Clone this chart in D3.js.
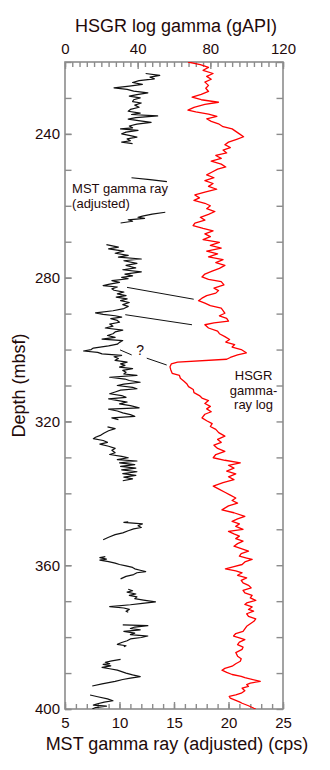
<!DOCTYPE html>
<html>
<head>
<meta charset="utf-8">
<script src="https://cdn.jsdelivr.net/npm/d3@7/dist/d3.min.js"></script>
<style>
  html, body { margin: 0; padding: 0; background: #fff; }
  svg { display: block; }
  text { font-family: "Liberation Sans", Arial, Helvetica, sans-serif; fill: #1f0a0a; }
</style>
</head>
<body>
<svg id="chart" width="330" height="770"></svg>
<script>
// ---------------- data ----------------
const depthDomain = [220, 400];
const hsgrDomain = [0, 120];
const mstDomain = [5, 25];
const depthTickLabels = [240, 280, 320, 360, 400];
const hsgrTickLabels = [0, 40, 80, 120];
const mstTickLabels = [5, 10, 15, 20, 25];

// HSGR log gamma (gAPI) vs depth (mbsf)
const hsgrLog = [
[220.0,67.7],[220.7,74.5],[221.5,79],[222.3,76],[223.2,81.5],[224.0,78],[224.8,80.5],[225.6,77],[226.5,79],[227.3,77.5],
[228.2,79],[229.0,75],[229.8,70],[230.5,75],[231.2,84.5],[231.8,77],[232.6,71],[233.4,67.7],[233.9,72],[234.5,79],
[235.1,83.6],[235.8,78],[236.5,80.5],[237.2,84.5],[238.0,87],[238.6,92],[239.3,94],[240.0,96],[240.8,98.3],[241.5,94.5],
[242.3,90],[243.0,88],[243.8,91],[244.5,87],[245.3,89],[246.0,83],[246.8,86],[247.6,80.5],[248.4,86],[249.2,88.5],
[249.8,84],[250.6,81],[251.4,78],[252.2,82],[253.0,77],[253.8,81.5],[254.6,79],[255.4,83.5],[256.2,77],[257.0,71.5],
[257.8,74],[258.5,71],[259.3,77],[260.0,80],[260.8,78],[261.6,82.5],[262.4,79],[263.2,74.5],[264.0,77],[264.8,71.5],
[265.5,70.5],[266.3,76],[267.0,81.5],[267.8,77],[268.6,80],[269.4,76],[270.2,85],[271.0,80],[271.8,86],[272.6,78],
[273.4,84],[274.2,79],[275.0,87],[275.8,83],[276.6,88],[277.4,85],[278.2,81],[279.0,77],[279.8,75.4],[280.5,79],
[281.1,86],[282.0,87.5],[282.9,82],[283.6,84.5],[284.3,83],[285.0,78],[285.7,75.4],[286.4,73.5],[287.1,77],[287.8,80],
[288.5,86],[289.2,87],[289.9,88],[290.6,85],[291.3,89],[292.1,90],[292.6,82],[293.1,77],[294.0,79],[294.9,84],
[295.6,85],[296.4,88],[297.2,90.6],[297.9,88.5],[298.6,93.4],[299.3,92],[300.0,97],[300.9,99.8],[301.5,95],[302.2,91],
[302.7,89],[303.5,62],[304.0,58.5],[304.8,57.8],[305.6,58.2],[306.6,59],[307.2,63],[308.0,63.5],[308.8,65.5],[309.5,67],
[310.3,68],[311.1,70.6],[312.0,71],[312.8,74],[313.5,75.4],[314.2,79],[315.0,77],[315.8,80],[316.5,78],[317.3,80.5],
[318.0,77],[319.0,75.4],[319.8,78],[320.6,81],[321.4,80],[322.2,83],[323.1,84.6],[324.1,88],[325.0,84],[325.8,86],
[326.6,82],[327.5,84],[328.3,88],[329.2,83],[330.1,81.6],[330.8,88],[331.5,96.5],[332.2,90],[333.0,93],[333.8,89],
[334.6,94],[335.4,90],[336.2,93],[337.0,87],[338.0,81.6],[338.9,85],[339.7,88],[340.5,91],[341.3,94],[342.0,92],
[342.7,95],[343.5,90],[344.6,86.4],[345.4,93],[346.4,99],[347.1,95],[347.8,92],[348.5,96],[349.2,94],[350.0,98],
[350.6,90],[351.3,93],[351.9,96],[352.6,94],[353.3,98],[354.0,95],[354.7,93],[355.4,97],[356.1,101],[356.8,97],
[357.5,96],[358.0,100],[358.4,103],[359.1,99],[359.8,97.5],[360.4,93],[361.0,88.3],[361.6,94],[362.1,97.5],[362.8,95],
[363.5,100],[364.2,97],[364.9,98],[365.6,101],[366.3,102.5],[367.0,98],[367.7,99],[368.4,103],[369.1,102],[369.8,105],
[370.5,100],[370.9,99],[371.6,103],[372.3,101],[372.8,103.8],[373.5,100],[374.2,101],[374.9,105],[375.6,104],[376.3,102],
[377.0,100],[377.7,99],[378.4,98],[379.0,94],[379.7,92.8],[380.2,96],[380.7,99],[381.4,96],[382.1,95],[382.8,98],
[383.4,97.5],[384.3,94],[385.3,95],[386.0,97],[386.7,96.5],[387.4,94],[388.1,92],[388.7,88],[389.2,86.4],[389.8,89],
[390.4,92],[390.9,97],[391.3,99],[392.3,107.5],[392.8,102],[393.2,100],[393.7,101],[394.2,97.5],[394.9,99],[395.6,97],
[396.1,94],[396.5,90.4],[397.0,91],[397.4,93],[398.0,96],[398.4,97.5],[399.1,101],[399.8,104],[400.0,105]
];

// MST gamma ray (adjusted, cps) vs depth (mbsf); one array per core segment
const mstSegments = [
[[223.2,12.4],[223.7,13.7],[224.2,12.8],[224.7,13.2],[225.2,11.8],[225.7,11.2],[226.2,12.1],[226.7,10.9],[227.2,9.5],[227.6,10.7],
 [228.1,11.3],[228.6,12.6],[229.1,11.6],[229.5,10.9],[230.0,11.9],[230.5,11.3],[231.0,11.2],[231.4,12.0],[232.0,11.4],[232.6,11.8],
 [233.2,11.0],[233.7,10.8],[234.2,11.9],[234.6,11.1],[235.0,13.5],[235.5,11.5],[235.9,10.8],[236.4,11.9],[236.8,12.9],[237.3,11.6],
 [237.8,10.9],[238.3,11.2],[238.6,10.1],[239.0,11.7],[239.5,10.6],[240.0,10.2],[240.5,11.0],[240.9,11.6],[241.4,10.7],[241.9,11.0],
 [242.3,10.2],[242.7,11.2]],
[[252.2,11.1],[252.7,12.8],[253.3,14.35]],
[[261.8,14.2],[262.3,13.0],[262.9,12.1],[263.2,11.7],[263.5,12.3],[263.9,10.8],[264.3,11.2],[264.8,10.1]],
[[270.8,8.8],[271.5,9.9],[272.0,9.0],[272.6,10.4],[273.2,9.6],[273.8,10.8],[274.3,9.9],[274.8,12.0],[275.3,10.4],[276.0,11.6],
 [276.6,10.6],[277.3,11.5],[277.8,10.3],[278.4,12.0],[279.0,10.5],[279.5,11.2],[279.9,10.2],[280.3,10.8],[280.8,9.3],[281.3,10.0],
 [281.8,9.1],[282.2,8.5],[282.6,9.8],[283.1,9.3],[283.5,9.5],[284.0,10.4],[284.5,9.8],[285.0,10.6],[285.4,9.7],[285.9,10.7],
 [286.4,10.1],[286.9,10.9],[287.5,10.3],[288.0,10.8],[288.6,10.4],[289.2,9.4],[289.8,7.8],[290.2,8.5],[290.6,9.6],[291.0,10.2],
 [291.4,9.2],[291.9,9.8],[292.4,10.0],[292.9,9.1],[293.5,9.4],[294.0,8.7],[294.6,10.3],[295.1,9.6],[295.6,9.4],[296.1,8.9],
 [296.6,9.6],[297.1,8.4],[297.5,10.3],[298.0,10.0],[298.5,9.8],[299.0,9.0],[299.6,7.6],[300.0,7.4],[300.4,6.7],[300.8,8.0],
 [301.2,8.4],[301.6,10.2],[302.0,9.5],[302.5,9.9],[303.0,9.6],[303.5,10.7],[304.0,10.1],[304.4,10.5],[304.9,10.0],[305.3,11.2],
 [305.8,10.3],[306.3,10.6],[306.8,10.4],[307.2,11.6],[307.7,9.1],[308.2,10.5],[308.6,10.9],[309.1,11.9],[309.6,10.4],[310.0,9.8],
 [310.5,11.2],[310.9,11.6],[311.3,10.1],[311.8,9.6],[312.3,9.1],[312.8,10.2],[313.3,10.6],[313.7,9.0],[314.2,9.9],[314.6,10.7],
 [315.1,10.0],[315.6,11.0],[316.2,11.8],[316.6,9.0],[317.1,9.8],[317.6,10.3],[318.1,11.0],[318.6,11.4],[319.0,9.3],[319.5,9.9]],
[[321.5,8.9],[322.0,9.6],[322.6,9.0],[323.2,8.6],[323.8,8.3],[324.4,7.8],[324.8,7.6],[325.3,8.5],[325.8,8.9],[326.3,8.2],
 [326.9,9.0],[327.5,9.6],[328.0,9.3],[328.7,9.6],[329.2,9.1],[329.7,10.2],[330.1,10.8],[330.6,9.8],[331.0,11.6],[331.5,10.0],
 [332.0,11.4],[332.5,10.1],[333.0,11.5],[333.5,10.2],[334.0,11.6],[334.5,10.3],[335.0,11.5],[335.5,10.4],[336.0,11.2],[336.5,10.3]],
[[347.9,10.8],[348.1,10.4],[348.5,12.1],[349.0,11.7],[349.5,12.0],[349.9,11.3],[350.4,10.8],[351.0,10.3],[351.5,9.6],[352.2,9.0],[352.9,8.5]],
[[357.6,8.7],[357.9,8.2],[358.3,8.8],[358.6,8.2],[359.0,9.0],[359.4,9.6],[359.8,10.0],[360.2,10.6],[360.6,11.2],[361.0,11.4],
 [361.4,11.9],[361.8,12.4],[362.1,11.6],[362.6,11.3],[363.1,10.6],[363.8,10.1]],
[[366.7,10.8],[367.1,11.2],[367.5,10.7],[368.0,11.5],[368.4,10.9],[368.8,11.6],[369.3,11.4],[369.7,12.2],[370.2,13.3],[370.6,12.1],
 [371.0,11.0],[371.5,9.1],[371.9,10.4],[372.3,10.9],[372.8,10.6],[373.1,10.8]],
[[376.6,10.3],[376.8,12.6],[377.2,11.4],[377.6,11.0],[378.0,11.9],[378.4,10.4],[378.9,11.4],[379.3,11.0],[379.7,12.6],[380.1,12.0],
 [380.5,11.0],[381.0,10.7],[381.5,10.2],[382.0,9.8],[382.4,10.6],[382.7,10.4]],
[[386.2,10.1],[386.6,9.3],[387.0,8.7],[387.4,9.1],[387.6,8.5],[388.0,9.2],[388.4,8.4],[388.8,9.1],[389.2,9.8],[389.6,10.2],
 [390.0,10.6],[390.5,11.2],[391.0,11.9],[391.4,11.0],[391.8,10.3],[392.3,9.6],[393.0,8.4],[393.6,7.5]],
[[396.1,7.3],[396.6,8.0],[397.2,8.9],[397.7,9.4],[398.1,8.6],[398.6,7.9],[398.9,7.6],[399.2,8.8],[399.6,7.8],[400.0,7.5]]
];

// correlation lines, in (depth, MST cps) coordinates
const correlationLines = [
  [[282.7,10.69],[286.0,16.81]],
  [[290.3,10.53],[293.1,16.65]],
  [[300.1,10.05],[301.5,11.12]],
  [[302.4,12.5],[304.3,14.33]]
];

// ---------------- layout ----------------
const plot = { left: 65, right: 283, top: 62, bottom: 709 };
const svg = d3.select("#chart");

const y = d3.scaleLinear().domain(depthDomain).range([plot.top, plot.bottom]);
const xTop = d3.scaleLinear().domain(hsgrDomain).range([plot.left, plot.right]);
const xBot = d3.scaleLinear().domain(mstDomain).range([plot.left, plot.right]);

const axisColor = "#8c8c8c";
const textColor = "#1f0a0a";

// frame
svg.append("rect")
  .attr("x", plot.left).attr("y", plot.top)
  .attr("width", plot.right - plot.left).attr("height", plot.bottom - plot.top)
  .attr("fill", "none").attr("stroke", axisColor).attr("stroke-width", 1.6);

function styleAxis(g) {
  g.select(".domain").remove();
  g.selectAll(".tick line").attr("stroke", axisColor).attr("stroke-width", 1.4);
  g.selectAll(".tick text").attr("fill", textColor)
    .style("font-size", "15px")
    .style("font-family", '"Liberation Sans", Arial, Helvetica, sans-serif');
}

// top axis (HSGR)
svg.append("g").attr("transform", `translate(0,${plot.top})`)
  .call(d3.axisTop(xTop).tickValues(d3.range(0, 121, 4)).tickSize(-5).tickFormat(""))
  .call(styleAxis);
svg.append("g").attr("transform", `translate(0,${plot.top})`)
  .call(d3.axisTop(xTop).tickValues(hsgrTickLabels).tickSize(-7).tickPadding(8).tickFormat(d3.format("d")))
  .call(styleAxis);

// bottom axis (MST)
svg.append("g").attr("transform", `translate(0,${plot.bottom})`)
  .call(d3.axisBottom(xBot).tickValues(d3.range(5, 26, 1)).tickSize(-5).tickFormat(""))
  .call(styleAxis);
svg.append("g").attr("transform", `translate(0,${plot.bottom})`)
  .call(d3.axisBottom(xBot).tickValues(mstTickLabels).tickSize(-7).tickPadding(8).tickFormat(d3.format("d")))
  .call(styleAxis);

// left axis (depth)
svg.append("g").attr("transform", `translate(${plot.left},0)`)
  .call(d3.axisLeft(y).tickValues(d3.range(220, 401, 10)).tickSize(-6.5).tickFormat(""))
  .call(styleAxis);
svg.append("g").attr("transform", `translate(${plot.left},0)`)
  .call(d3.axisLeft(y).tickValues(depthTickLabels).tickSize(-6.5).tickPadding(5).tickFormat(d3.format("d")))
  .call(styleAxis);

// right axis ticks
svg.append("g").attr("transform", `translate(${plot.right},0)`)
  .call(d3.axisRight(y).tickValues(d3.range(220, 401, 10)).tickSize(-6.5).tickFormat(""))
  .call(styleAxis);

// titles
const midX = (plot.left + plot.right) / 2;
svg.append("text").attr("x", midX + 2).attr("y", 31.5)
  .attr("text-anchor", "middle").style("font-size", "18px")
  .text("HSGR log gamma (gAPI)");
svg.append("text").attr("x", midX + 3).attr("y", 750)
  .attr("text-anchor", "middle").style("font-size", "18px")
  .text("MST gamma ray (adjusted) (cps)");
svg.append("text")
  .attr("transform", `translate(24.5,${(plot.top + plot.bottom) / 2}) rotate(-90)`)
  .attr("text-anchor", "middle").style("font-size", "18px")
  .text("Depth (mbsf)");

// clip
svg.append("clipPath").attr("id", "clip")
  .append("rect").attr("x", plot.left).attr("y", plot.top)
  .attr("width", plot.right - plot.left).attr("height", plot.bottom - plot.top);

// HSGR curve (red)
const hsgrLine = d3.line().x(d => xTop(d[1])).y(d => y(d[0]));
svg.append("path").datum(hsgrLog)
  .attr("clip-path", "url(#clip)")
  .attr("d", hsgrLine)
  .attr("fill", "none").attr("stroke", "#ff0000").attr("stroke-width", 1.3)
  .attr("stroke-linejoin", "round");

// MST curve (black)
const mstLine = d3.line().x(d => xBot(d[1])).y(d => y(d[0]));
svg.append("g").attr("clip-path", "url(#clip)")
  .selectAll("path").data(mstSegments).join("path")
  .attr("d", mstLine)
  .attr("fill", "none").attr("stroke", "#111").attr("stroke-width", 1.2)
  .attr("stroke-linejoin", "round");

// correlation lines
svg.append("g").selectAll("line").data(correlationLines).join("line")
  .attr("x1", d => xBot(d[0][1])).attr("y1", d => y(d[0][0]))
  .attr("x2", d => xBot(d[1][1])).attr("y2", d => y(d[1][0]))
  .attr("stroke", "#111").attr("stroke-width", 1);

// annotations
svg.append("text").attr("x", xBot(11.9)).attr("y", y(301.5))
  .attr("text-anchor", "middle").style("font-size", "14px").text("?");

const lineGap = 14.6;
["MST gamma ray", "(adjusted)"].forEach((t, i) => {
  svg.append("text").attr("x", xBot(5.65)).attr("y", y(256.5) + i * lineGap)
    .style("font-size", "13px").text(t);
});
["HSGR", "gamma-", "ray log"].forEach((t, i) => {
  svg.append("text").attr("x", xTop(103.8)).attr("y", y(308.5) + i * lineGap)
    .attr("text-anchor", "middle").style("font-size", "13px").text(t);
});
</script>
</body>
</html>
